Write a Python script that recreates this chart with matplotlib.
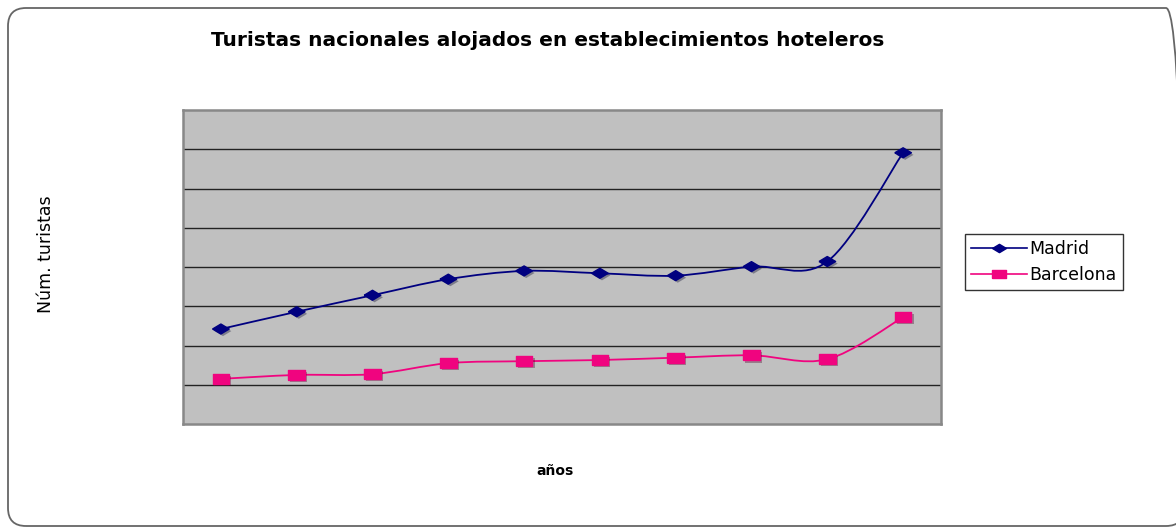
import matplotlib
matplotlib.use("Agg")
import matplotlib.pyplot as plt
import matplotlib.patheffects as pe
from matplotlib.path import Path
from matplotlib.patches import PathPatch, FancyBboxPatch
import numpy as np

# datos (unidades = una línea de la cuadrícula)
anios = list(range(10))
madrid = [2.42, 2.86, 3.28, 3.69, 3.90, 3.84, 3.78, 4.01, 4.14, 6.91]
barcelona = [1.15, 1.25, 1.27, 1.55, 1.60, 1.63, 1.69, 1.75, 1.65, 2.72]

color_madrid = "#000080"
color_barcelona = "#F0047F"

# marcadores anchos (la imagen original está estirada en horizontal)
rombo = [(-1, 0), (0, 0.6), (1, 0), (0, -0.6), (-1, 0)]
cuadrado = [(-1, -0.62), (1, -0.62), (1, 0.62), (-1, 0.62), (-1, -0.62)]


def curva_suave(xs, ys):
    # Bezier como el "suavizado" de Excel
    pts = np.column_stack([xs, ys])
    verts = [pts[0]]
    codes = [Path.MOVETO]
    n = len(pts)
    for i in range(n - 1):
        p0 = pts[i - 1] if i > 0 else pts[i]
        p1 = pts[i]
        p2 = pts[i + 1]
        p3 = pts[i + 2] if i + 2 < n else pts[i + 1]
        c1 = p1 + (p2 - p0) / 6
        c2 = p2 - (p3 - p1) / 6
        verts += [c1, c2, p2]
        codes += [Path.CURVE4] * 3
    return Path(verts, codes)


fig = plt.figure(figsize=(11.76, 5.28), dpi=100)

# marco redondeado exterior (el borde derecho queda fuera de la imagen)
marco = FancyBboxPatch((0.08, 0.02), 11.76, 5.18,
                       boxstyle="round,pad=0,rounding_size=0.18",
                       transform=fig.dpi_scale_trans, facecolor="none",
                       edgecolor="#666666", linewidth=1.3, zorder=-10)
fig.patches.append(marco)

ax = fig.add_axes([183 / 1176, 1 - 424 / 528, 758 / 1176, 314 / 528])
ax.set_facecolor("#C0C0C0")
ax.set_xlim(-0.5, 9.5)
ax.set_ylim(0, 8)
ax.set_yticks(range(1, 8))
ax.set_xticks([])
ax.tick_params(left=False, labelleft=False)
ax.grid(axis="y", color="#222222", linewidth=1.0)
ax.set_axisbelow(True)
for s in ax.spines.values():
    s.set_color("#888888")
    s.set_linewidth(1.8)

sombra = [pe.SimplePatchShadow(offset=(1.5, -1.5), alpha=0.35), pe.Normal()]

for ys, col, mk in [(madrid, color_madrid, rombo),
                    (barcelona, color_barcelona, cuadrado)]:
    ax.add_patch(PathPatch(curva_suave(anios, ys), facecolor="none",
                           edgecolor=col, linewidth=1.3, zorder=3))
    ax.plot(anios, ys, linestyle="none", marker=mk, markersize=12,
            color=col, zorder=4, path_effects=sombra)

# leyenda
h1, = ax.plot([], [], color=color_madrid, marker=rombo, markersize=10, linewidth=1.2)
h2, = ax.plot([], [], color=color_barcelona, marker=cuadrado, markersize=10, linewidth=1.2)
leg = fig.legend([h1, h2], ["Madrid", "Barcelona"],
                 loc="center left", bbox_to_anchor=(965 / 1176, 1 - 262 / 528),
                 fontsize=12.5, frameon=True, fancybox=False, edgecolor="black",
                 handlelength=3.2, handletextpad=0.15, borderpad=0.35,
                 labelspacing=0.45, borderaxespad=0)
leg.get_frame().set_linewidth(1.0)

fig.text(548 / 1176, 1 - 40 / 528,
         "Turistas nacionales alojados en establecimientos hoteleros",
         ha="center", va="center", fontsize=14.5, fontweight="bold",
         family=["DejaVu Sans"])
fig.text(46 / 1176, 1 - 254 / 528, "Núm. turistas", rotation=90,
         ha="center", va="center", fontsize=12.5,
         family=["Liberation Sans Narrow", "DejaVu Sans"])
fig.text(555 / 1176, 1 - 471 / 528, "años", ha="center", va="center",
         fontsize=10, fontweight="bold", family=["DejaVu Sans"])

fig.savefig("out.png", dpi=100)
